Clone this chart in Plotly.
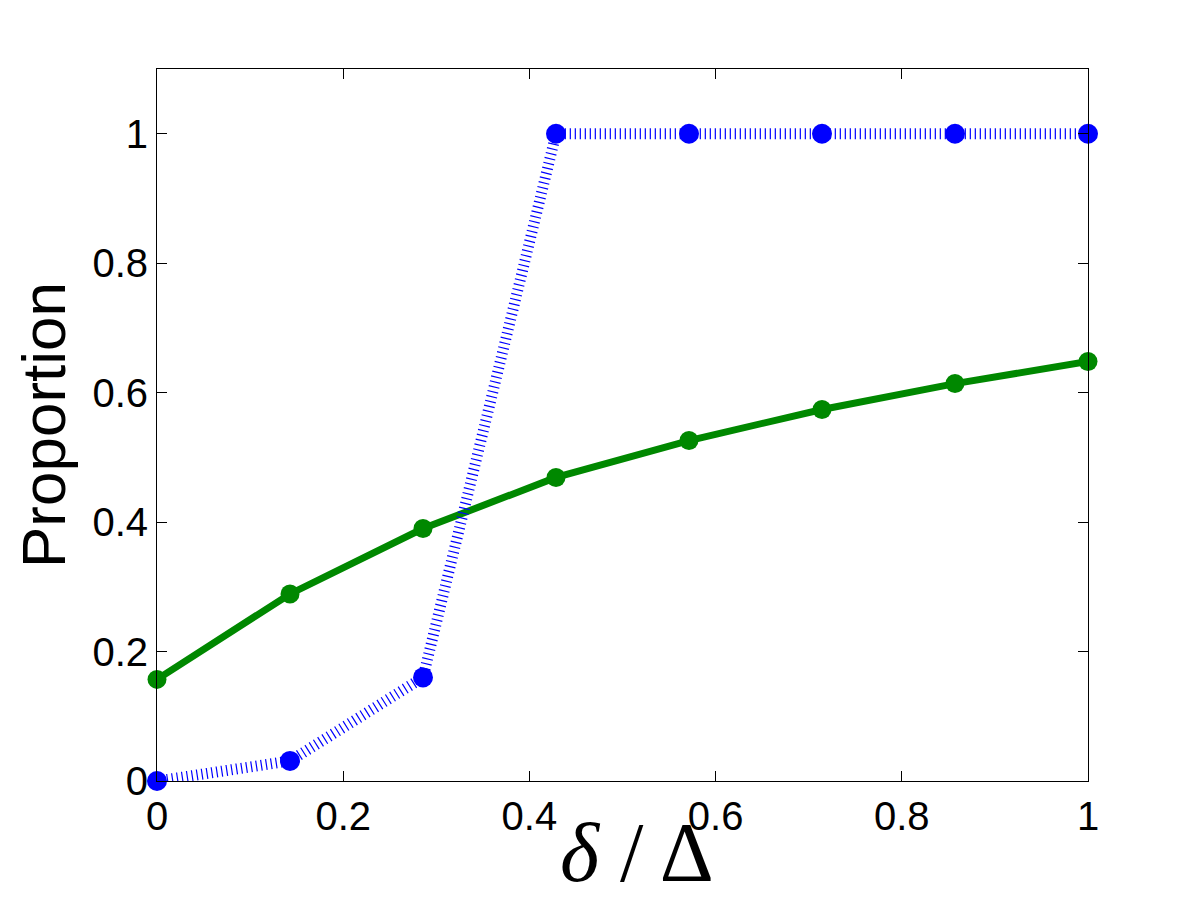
import plotly.graph_objects as go

x_vals = [0, 1/7, 2/7, 3/7, 4/7, 5/7, 6/7, 1]
blue_vals = [0.0, 0.031, 0.160, 1.0, 1.0, 1.0, 1.0, 1.0]
green_vals = [0.157, 0.289, 0.390, 0.469, 0.526, 0.574, 0.614, 0.648]
x_ticks = [0, 0.2, 0.4, 0.6, 0.8, 1]
x_tick_text = ["0", "0.2", "0.4", "0.6", "0.8", "1"]
y_ticks = [0, 0.2, 0.4, 0.6, 0.8, 1]
y_tick_text = ["0", "0.2", "0.4", "0.6", "0.8", "1"]
x_title = "<i>δ</i> / Δ"
y_title = "Proportion"

fig = go.Figure()
fig.add_trace(go.Scatter(
    x=x_vals, y=green_vals, mode="lines+markers",
    line=dict(color="#008800", width=7),
    marker=dict(color="#008800", size=19, symbol="circle"),
    cliponaxis=False, showlegend=False))
fig.add_trace(go.Scatter(
    x=x_vals, y=blue_vals, mode="lines+markers",
    line=dict(color="#0000ff", width=11, dash="1.2px,3.8px"),
    marker=dict(color="#0000ff", size=20, symbol="circle"),
    cliponaxis=False, showlegend=False))

axis_common = dict(
    showline=True, linecolor="black", linewidth=1, mirror="ticks",
    ticks="inside", ticklen=10, tickwidth=1, tickcolor="black",
    showgrid=False, zeroline=False,
    tickfont=dict(family="Liberation Sans, Arial", size=40, color="black"),
)

fig.update_xaxes(range=[0, 1], tickvals=x_ticks, ticktext=x_tick_text, **axis_common)
fig.update_yaxes(range=[0, 1.1], tickvals=y_ticks, ticktext=y_tick_text,
                 title=dict(text=y_title,
                            font=dict(family="Liberation Sans, Arial", size=62, color="black"),
                            standoff=6),
                 **axis_common)

fig.add_annotation(
    text=x_title, xref="paper", yref="paper", x=0.5156, y=-0.10,
    xanchor="center", yanchor="middle", showarrow=False,
    font=dict(family="Liberation Serif, Times New Roman", size=84, color="black"))

fig.update_layout(
    width=1200, height=900,
    margin=dict(l=149, r=120, t=61, b=127, autoexpand=False),
    paper_bgcolor="white", plot_bgcolor="white",
)

fig.write_html("out.html")
